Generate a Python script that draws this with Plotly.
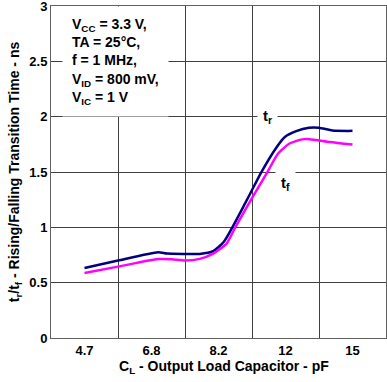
import plotly.graph_objects as go

# Categories (x-axis tick labels), placed at cell centres
cap_labels = ["4.7", "6.8", "8.2", "12", "15"]
cap_pos = [0.5, 1.5, 2.5, 3.5, 4.5]

# Y tick values
y_ticks = [0, 0.5, 1, 1.5, 2, 2.5, 3]
y_ticktext = ["0", "0.5", "1", "1.5", "2", "2.5", "3"]

# Rising time t_r (ns)
tr_x = [0.5, 1.0, 1.60, 1.73, 2.0, 2.22, 2.42, 2.58, 2.92, 3.14, 3.37, 3.49, 3.66, 3.85, 4.0, 4.2, 4.5]
tr_y = [0.633, 0.70, 0.775, 0.763, 0.760, 0.760, 0.785, 0.87, 1.243, 1.5, 1.727, 1.817, 1.87, 1.90, 1.90, 1.875, 1.872]

# Falling time t_f (ns)
tf_x = [0.5, 1.0, 1.60, 1.80, 2.0, 2.22, 2.42, 2.62, 2.75, 2.98, 3.23, 3.39, 3.56, 3.75, 3.86, 4.16, 4.5]
tf_y = [0.588, 0.645, 0.714, 0.712, 0.700, 0.715, 0.763, 0.853, 1.0, 1.243, 1.5, 1.667, 1.758, 1.795, 1.797, 1.772, 1.749]

font = "Liberation Sans, Arial, sans-serif"

fig = go.Figure()
fig.add_trace(go.Scatter(x=tr_x, y=tr_y, mode="lines",
                         line=dict(color="#000080", width=2.5, shape="spline", smoothing=0.6),
                         showlegend=False, hoverinfo="skip"))
fig.add_trace(go.Scatter(x=tf_x, y=tf_y, mode="lines",
                         line=dict(color="#FF00FF", width=2.5, shape="spline", smoothing=0.6),
                         showlegend=False, hoverinfo="skip"))

fig.update_layout(
    width=387, height=382,
    margin=dict(l=51, r=1, t=6, b=44),
    plot_bgcolor="white", paper_bgcolor="white",
    font=dict(family=font, size=13, color="black"),
    xaxis=dict(
        range=[0, 5], tickvals=cap_pos, ticktext=cap_labels, automargin=False,
        showgrid=False, zeroline=False, ticks="", ticklabeloverflow="allow",
        tickfont=dict(family=font, size=13, color="black", weight="bold"),
        minor=dict(tick0=0, dtick=1, showgrid=True, gridcolor="#404040", gridwidth=1, ticks=""),
        showline=True, linecolor="#606060", linewidth=1, mirror=True,
    ),
    yaxis=dict(
        range=[0, 3.0005], tickvals=y_ticks, ticktext=y_ticktext, automargin=False,
        showgrid=True, gridcolor="#404040", gridwidth=1, ticklabeloverflow="allow",
        zeroline=False, ticks="",
        tickfont=dict(family=font, size=13, color="black", weight="bold"),
        showline=True, linecolor="#606060", linewidth=1, mirror=True,
        title=dict(text="t<sub>r</sub>/t<sub>f</sub> - Rising/Falling Transition Time - ns",
                   font=dict(family=font, size=14, color="black", weight="bold"), standoff=6),
    ),
)

# x-axis title (placed slightly right of centre, as in the reference)
fig.add_annotation(
    x=0.516, y=-0.088, xref="paper", yref="paper", xanchor="center", yanchor="middle",
    text="C<sub>L</sub> - Output Load Capacitor - pF", showarrow=False,
    font=dict(family=font, size=14, color="black", weight="bold"),
)

fig.add_annotation(
    x=0.17, y=3.0, xref="x", yref="y", xanchor="left", yanchor="top",
    text="V<sub>CC</sub> = 3.3 V,<br>TA = 25°C,<br>f = 1 MHz,<br>V<sub>ID</sub> = 800 mV,<br>V<sub>IC</sub> = 1 V",
    align="left", showarrow=False, bgcolor="white", borderpad=9,
    font=dict(family=font, size=14, color="black", weight="bold"),
)
fig.add_annotation(x=3.23, y=2.0, xref="x", yref="y", text="t<sub>r</sub>", showarrow=False,
                   bgcolor="white", borderpad=5,
                   font=dict(family=font, size=15, color="black", weight="bold"))
fig.add_annotation(x=3.50, y=1.40, xref="x", yref="y", text="t<sub>f</sub>", showarrow=False,
                   bgcolor="white", borderpad=5,
                   font=dict(family=font, size=15, color="black", weight="bold"))

fig.write_html("out.html", config={"displayModeBar": False},
               post_script="document.body.style.margin='0';document.body.style.padding='0';document.body.style.overflow='hidden';")
